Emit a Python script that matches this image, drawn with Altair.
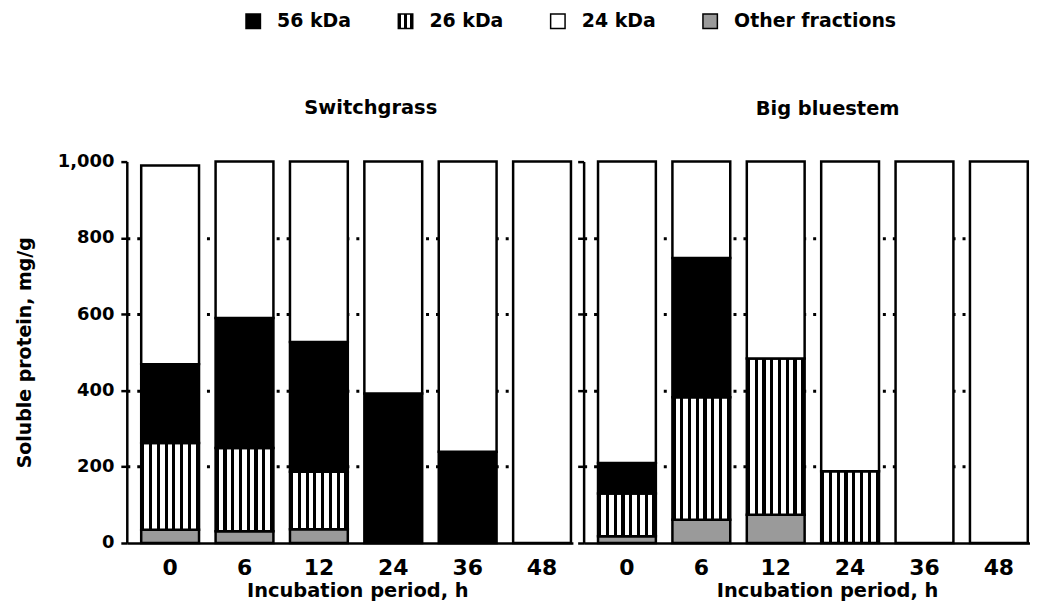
import altair as alt
import pandas as pd

hours = [0, 6, 12, 24, 36, 48]
species = ["Switchgrass", "Big bluestem"]
fractions = ["Other fractions", "26 kDa", "56 kDa", "24 kDa"]  # stacked bottom -> top
legend_order = ["56 kDa", "26 kDa", "24 kDa", "Other fractions"]

switchgrass_other = [35, 31, 36, 0, 0, 0]
switchgrass_26kda = [227, 218, 151, 0, 0, 0]
switchgrass_56kda = [207, 341, 340, 392, 239, 0]
switchgrass_24kda = [521, 410, 473, 608, 761, 1000]

bluestem_other = [18, 61, 74, 0, 0, 0]
bluestem_26kda = [112, 321, 410, 188, 0, 0]
bluestem_56kda = [80, 365, 0, 0, 0, 0]
bluestem_24kda = [790, 253, 516, 812, 1000, 1000]

y_ticks = [0, 200, 400, 600, 800, 1000]

series = {
    "Switchgrass": [switchgrass_other, switchgrass_26kda, switchgrass_56kda, switchgrass_24kda],
    "Big bluestem": [bluestem_other, bluestem_26kda, bluestem_56kda, bluestem_24kda],
}
rows = []
for sp in species:
    for k, frac in enumerate(fractions):
        for h, v in zip(hours, series[sp][k]):
            rows.append({"species": sp, "hour": h, "fraction": frac, "value": v, "order": k})
df = pd.DataFrame(rows)

FONT = "DejaVu Sans"


def stripes(n_white, b, w):
    stops = []
    pos = 0.0
    for _ in range(n_white):
        stops += [
            {"offset": round(pos, 4), "color": "black"},
            {"offset": round(pos + b, 4), "color": "black"},
            {"offset": round(pos + b, 4), "color": "white"},
            {"offset": round(pos + b + w, 4), "color": "white"},
        ]
        pos += b + w
    stops += [{"offset": round(min(pos, 1), 4), "color": "black"}, {"offset": 1, "color": "black"}]
    return {"gradient": "linear", "x1": 0, "y1": 0, "x2": 1, "y2": 0, "stops": stops}


bar_stripes = stripes(7, 0.055, 0.0793)
legend_stripes = stripes(2, 0.22, 0.17)
fill_range = ["#9a9a9a", "#ffffff", "#000000", "#ffffff"]


def panel(name, first, title_x, title_offset):
    y_axis = dict(
        values=y_ticks, format=",.0f", labels=first, domainColor="black", domainWidth=2.5,
        tickColor="black", tickWidth=2.5, tickSize=6,
        labelFont=FONT, labelFontWeight="bold", labelFontSize=18, labelColor="black", labelPadding=7,
        grid=True, gridColor="black", gridWidth=3, gridDash=[3, 7],
        gridOpacity=alt.condition("datum.value == 0 || datum.value == 1000", alt.value(0), alt.value(1)),
    )
    if first:
        y_axis.update(title="Soluble protein, mg/g", titleFont=FONT, titleFontWeight="bold",
                      titleFontSize=19, titleColor="black", titlePadding=22.4)
    else:
        y_axis.update(title=None)
    return (
        alt.Chart(df)
        .transform_filter(alt.datum.species == name)
        .transform_filter("datum.value > 0")
        .mark_bar(stroke="black", strokeWidth=2.5)
        .encode(
            x=alt.X("hour:O", sort=hours,
                    scale=alt.Scale(paddingInner=0.2225, paddingOuter=0.11, align=0.88),
                    axis=alt.Axis(title="Incubation period, h", labelAngle=0, ticks=False, tickSize=0,
                                  domainColor="black", domainWidth=2.5,
                                  labelFont=FONT, labelFontWeight="bold", labelFontSize=22,
                                  labelColor="black", labelPadding=15,
                                  titleFont=FONT, titleFontWeight="bold", titleFontSize=19.5,
                                  titleColor="black", titlePadding=3, titleX=title_x)),
            y=alt.Y("value:Q", stack="zero", scale=alt.Scale(domain=[0, 1000], nice=False),
                    axis=alt.Axis(**y_axis)),
            order=alt.Order("order:Q", sort="ascending"),
            fill=alt.condition("datum.fraction == '26 kDa'", alt.value(bar_stripes),
                               alt.Fill("fraction:N", scale=alt.Scale(domain=fractions, range=fill_range),
                                        legend=None)),
        )
        .properties(
            width=448, height=383,
            title=alt.TitleParams(name, font=FONT, fontWeight="bold", fontSize=19.5, color="black",
                                  offset=title_offset, dx=21, frame="group"),
        )
    )


left = panel("Switchgrass", True, 231.5, 34)
right = panel("Big bluestem", False, 244.5, 41)

legend_df = pd.DataFrame({"label": legend_order})
leg_base = alt.Chart(legend_df).encode(
    x=alt.X("label:N", sort=legend_order, axis=None,
            scale=alt.Scale(type="band", paddingInner=0, paddingOuter=0.2, align=0.825))
)
leg_sym = leg_base.mark_square(size=210, stroke="black", strokeWidth=1.5, opacity=1).encode(
    fill=alt.condition("datum.label == '26 kDa'", alt.value(legend_stripes),
                       alt.Fill("label:N", scale=alt.Scale(domain=fractions, range=fill_range), legend=None))
)
leg_txt = leg_base.mark_text(align="left", baseline="middle", dx=24, font=FONT, fontWeight="bold",
                             fontSize=19, color="black").encode(text="label:N")
legend = alt.layer(leg_sym, leg_txt).properties(width=673, height=24)

chart = (
    alt.vconcat(legend, alt.hconcat(left, right, spacing=2.75), spacing=65)
    .properties(padding={"left": 7.3, "top": 0, "right": 0, "bottom": 0})
    .configure_view(strokeWidth=0)
)

chart.save("out.html", embed_options={"renderer": "svg", "actions": False})
